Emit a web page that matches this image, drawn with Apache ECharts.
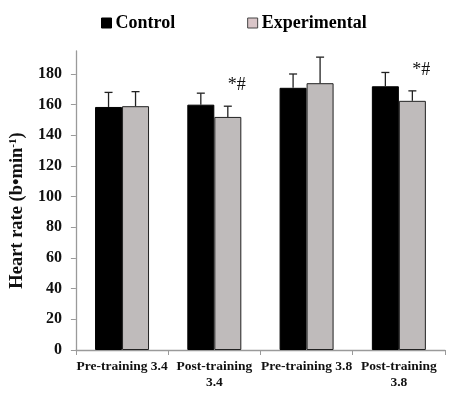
<!DOCTYPE html>
<html>
<head>
<meta charset="utf-8">
<script src="https://cdn.jsdelivr.net/npm/echarts@6/dist/echarts.min.js"></script>
<style>html,body{margin:0;padding:0;background:#fff;}#c{width:456px;height:394px;}</style>
</head>
<body>
<div id="c"></div>
<script>
var categories = ['Pre-training 3.4', 'Post-training\n3.4', 'Pre-training 3.8', 'Post-training\n3.8'];
var controlValues = [158.5, 160, 171, 172];
var controlErrors = [9.5, 7.5, 9, 9];
var expValues = [159, 152, 174, 162.5];
var expErrors = [9.5, 7, 17, 6.5];
var expMarks = ['', '*#', '', '*#'];
var yTicks = [0, 20, 40, 60, 80, 100, 120, 140, 160, 180];

var serif = '"Liberation Serif","DejaVu Serif",serif';
var chart = echarts.init(document.getElementById('c'));
var barW = 27;

function errSeries(name, vals, errs, offset, marks) {
  var data = vals.map(function (v, i) { return [i, v, errs[i], marks ? marks[i] : '']; });
  return {
    type: 'custom', name: name + ' err', data: data, z: 10, silent: true,
    renderItem: function (params, api) {
      var i = api.value(0), v = api.value(1), e = api.value(2);
      var base = api.coord([i, v]);
      var top = api.coord([i, v + e]);
      var x = base[0] + offset;
      var ch = [
        { type: 'line', shape: { x1: x, y1: base[1], x2: x, y2: top[1] }, style: { stroke: '#222', lineWidth: 1.3 } },
        { type: 'line', shape: { x1: x - 4, y1: top[1], x2: x + 4, y2: top[1] }, style: { stroke: '#222', lineWidth: 1.3 } }
      ];
      var m = data[params.dataIndex][3];
      if (m) {
        ch.push({ type: 'text', style: { text: m, x: x + 9, y: top[1] - 12, align: 'center', verticalAlign: 'bottom', font: '18px ' + serif, fill: '#111' } });
      }
      return { type: 'group', children: ch };
    }
  };
}

chart.setOption({
  animation: false,
  backgroundColor: '#fff',
  legend: {
    left: 96, top: 9, itemWidth: 10, itemHeight: 10, itemGap: 72, itemStyle: {},
    textStyle: { fontFamily: serif, fontWeight: 'bold', fontSize: 18, color: '#000', padding: [0, 0, 0, -1] },
    data: [
      { name: 'Control', icon: 'rect', itemStyle: { color: '#000', borderColor: '#000', borderWidth: 1 } },
      { name: 'Experimental', icon: 'rect', itemStyle: { color: '#d9c5c8', borderColor: '#444', borderWidth: 1 } }
    ]
  },
  grid: { left: 74, right: 11, top: 51, bottom: 44 },
  xAxis: {
    type: 'category', data: categories,
    axisLine: { lineStyle: { color: '#9a9a9a', width: 1.3 } },
    axisTick: { show: true, length: 5, lineStyle: { color: '#9a9a9a' } },
    axisLabel: { margin: 9, fontFamily: serif, fontWeight: 'bold', fontSize: 13.5, color: '#111', lineHeight: 16, interval: 0 }
  },
  yAxis: {
    type: 'value', min: 0, max: 195,
    name: 'Heart rate (b•min{sup|-1})', nameLocation: 'middle', nameGap: 44, nameRotate: 90,
    nameTextStyle: { fontFamily: serif, fontWeight: 'bold', fontSize: 18.5, color: '#111', padding: [0, 20, 0, 0],
      rich: { sup: { fontFamily: serif, fontWeight: 'bold', fontSize: 11, color: '#111', verticalAlign: 'top', padding: [0, 0, 8, 0] } } },
    axisLine: { show: true, lineStyle: { color: '#9a9a9a', width: 1.3 } },
    axisTick: { show: true, length: 5, customValues: yTicks, lineStyle: { color: '#9a9a9a' } },
    axisLabel: { customValues: yTicks, margin: 14, fontFamily: serif, fontWeight: 'bold', fontSize: 16, color: '#111' },
    splitLine: { show: false }
  },
  series: [
    { type: 'bar', name: 'Control', data: controlValues, barWidth: barW, barGap: '0%',
      itemStyle: { color: '#000', borderColor: '#000', borderWidth: 1 } },
    { type: 'bar', name: 'Experimental', data: expValues, barWidth: barW, barGap: '0%',
      itemStyle: { color: '#bfbbbb', borderColor: '#222', borderWidth: 1 } },
    errSeries('Control', controlValues, controlErrors, -barW / 2, null),
    errSeries('Experimental', expValues, expErrors, barW / 2, expMarks)
  ]
});
</script>
</body>
</html>
